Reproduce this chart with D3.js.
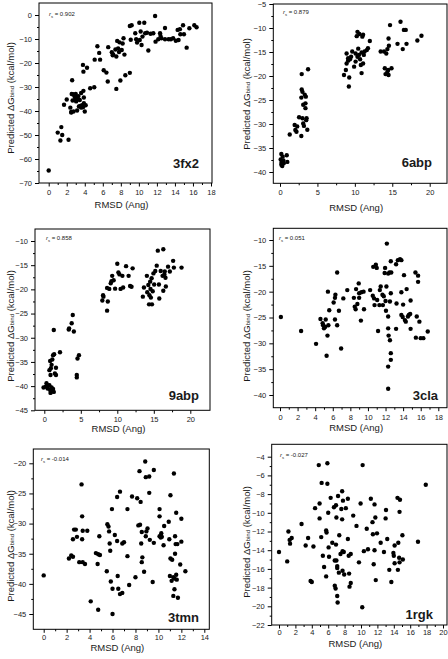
<!DOCTYPE html>
<html><head><meta charset="utf-8">
<script src="https://cdn.jsdelivr.net/npm/d3@7"></script>
<style>
html,body{margin:0;padding:0;background:#fff;}
svg{display:block;}
text{font-family:"Liberation Sans",Arial,sans-serif;fill:#1a1a1a;}
</style></head>
<body><svg id="c" width="448" height="659"></svg>
<script>
// ---------- DATA ----------
const panelNames = ["3fx2","6abp","9abp","3cla","3tmn","1rgk"];
const rsValues = ["0.902","0.879","0.858","0.051","-0.014","-0.027"];

const rmsd3fx2 = [0,1.0,1.3,1.4,1.5,2.2,1.7,2.0,2.4,2.5,2.6,2.55,2.7,2.5,2.75,2.65,2.9,2.95,3.0,3.05,3.2,3.3,3.35,3.45,3.5,3.15,2.85,3.6,3.7,3.8,3.9,3.6,4.1,3.8,3.85,4.25,3.85,3.9,4.0,4.6,5.05,5.1,5.4,5.6,5.7,6.1,6.4,6.55,6.6,7.0,7.1,7.15,7.4,7.5,7.5,7.6,7.7,7.8,7.85,7.95,8.1,8.2,8.3,8.4,8.5,9.0,9.0,9.2,9.1,9.6,9.7,9.8,10.05,10.1,10.2,10.3,10.4,10.6,10.7,10.9,11.05,11.3,11.6,11.8,11.85,12.15,12.35,12.4,12.5,12.9,12.9,13.3,13.55,13.8,14.1,14.3,14.4,14.55,14.6,14.9,15.0,15.3,15.6,16.15,16.4];
const dG3fx2 = [-64.8,-49,-52.3,-46.7,-50,-52,-37.4,-35.2,-38.6,-40.4,-27.2,-32.9,-33,-40.6,-40.2,-35.6,-35.4,-34.3,-32.9,-36,-35,-33.8,-38.1,-35.4,-37.9,-39.8,-33.8,-38.6,-37.6,-38.4,-36.8,-32.5,-37.6,-20.8,-23.6,-22,-31.6,-34.4,-40.2,-30.5,-30.1,-18.6,-13,-15.8,-18.6,-23,-24,-27.7,-13.4,-15.5,-16.8,-16.4,-14.4,-17.3,-30.8,-10.8,-13.9,-15.4,-11.4,-27.3,-14.6,-11.9,-9.7,-16.5,-25.1,-24.1,-4.6,-4.3,-10.3,-7.6,-10.1,-11.5,-3.2,-10.4,-6.9,-12.5,-9,-3.2,-7.6,-7.4,-14.8,-7.8,-7.6,-0.4,-11.1,-10.1,-7.6,-8.7,-9.7,-5.4,-10.1,-10.1,-10.1,-9.7,-10.7,-6.2,-10.4,-5.9,-8,-4.3,-8,-13.6,-5.5,-4.3,-5.1];

const rmsd6abp = [0.18,0.36,0.09,0.2,0.3,0.5,0.9,0.98,0.45,0.18,1.3,1.96,2.05,2.3,2.2,2.55,2.9,2.85,2.9,3.0,3.0,3.1,2.85,3.2,3.1,3.3,3.4,3.4,3.45,3.55,3.65,3.5,3.75,8.55,8.8,8.9,8.9,9.1,9.1,9.25,9.2,9.35,9.5,9.65,9.9,10.1,10.25,10.35,10.45,10.55,10.6,10.7,10.8,10.9,10.9,11.0,11.1,11.2,11.3,11.6,11.75,12.0,11.1,10.35,10.1,13.45,13.9,14.0,14.1,14.2,14.35,14.35,14.45,14.5,14.55,14.7,14.9,14.5,15.7,16.1,16.4,16.55,16.8,16.9,18.35,18.9];
const dG6abp = [-36.25,-36.8,-37.4,-38.05,-38.75,-38.2,-36.5,-37.9,-37.6,-38.5,-32.2,-30.2,-31.25,-30.5,-31.6,-28.6,-19.6,-24.5,-22.8,-23.3,-28.8,-29.9,-32.5,-30.4,-26,-23.9,-25.7,-26.7,-24.3,-28.8,-31.2,-29.2,-18.6,-19.8,-18.75,-15.3,-17.4,-16.8,-16.3,-20.3,-22.2,-16.5,-16,-14.9,-18.05,-15.3,-11.7,-10.8,-14.3,-15.6,-11.25,-16.5,-17.7,-15.1,-19.4,-11.8,-17.4,-15.6,-14.9,-14.6,-14.2,-12.7,-11.4,-16,-17,-14.9,-14.9,-18.4,-19.6,-15.3,-14.4,-19.1,-18.75,-12.2,-13.7,-9.4,-18.4,-19.8,-13.3,-8.7,-14.4,-10.4,-10.4,-13.3,-12.6,-11.6];

const rmsd9abp = [-0.1,0.2,0.3,0.45,0.7,0.8,0.85,1.0,1.2,1.3,0.55,1.1,0.7,0.8,0.85,1.0,0.9,1.1,1.2,1.35,1.3,1.45,1.6,1.6,2.15,3.35,3.4,3.75,3.9,4.05,4.45,4.45,4.55,4.75,7.95,8.05,8.1,8.6,8.6,8.7,8.9,9.1,9.2,9.3,9.5,9.7,10.0,10.15,10.3,10.45,10.7,10.8,11.2,11.55,11.75,11.95,12.1,13.5,13.65,14.05,14.1,14.25,14.35,14.4,14.5,14.55,14.6,14.7,14.75,14.85,14.95,15.05,15.2,15.4,15.55,15.7,15.75,15.95,16.3,16.2,16.3,16.45,16.5,16.6,16.65,16.95,17.2,17.65,17.75,18.8];
const dG9abp = [-40.3,-40.1,-39.4,-40.5,-39.8,-40.8,-41.4,-40.3,-40.6,-41.2,-39.9,-41,-36.7,-34.8,-37.7,-35.6,-36.3,-34.5,-33.6,-33.4,-28.4,-37.4,-36.2,-37.7,-33,-28.3,-28.1,-27,-25.3,-28.7,-38.2,-37.7,-34.3,-33.6,-22.3,-21.2,-21.5,-19.7,-24.4,-22.5,-19.9,-18.75,-18.3,-17.2,-18.1,-19.85,-14.7,-16.5,-16.9,-19.9,-17.2,-19.6,-15.2,-17.2,-19.3,-19.45,-15.65,-21.5,-19.6,-17.2,-20.6,-19.1,-23.1,-21.2,-18.4,-19.9,-21.7,-17.7,-23.1,-20.4,-16.7,-19,-16.2,-15.1,-12,-19,-21.9,-16.2,-11.7,-17.2,-20.3,-16.9,-16.3,-17.6,-19.4,-15.3,-16.3,-14.1,-15.5,-15.5];

const rmsd3cla = [0.1,2.4,4.1,4.6,4.85,4.9,5.0,5.15,5.2,5.3,5.4,5.45,5.5,5.6,6.1,6.25,6.3,6.25,6.5,6.5,6.7,6.95,7.2,7.65,8.4,8.5,8.6,8.65,8.8,8.95,9.0,9.0,9.2,9.25,9.5,9.55,10.25,10.55,10.6,10.7,10.75,10.9,11.0,11.05,11.15,11.3,11.35,11.45,11.65,11.7,11.8,11.9,11.95,12.0,12.05,12.1,12.15,12.3,12.3,12.3,12.35,12.3,12.3,12.45,12.5,12.5,12.6,12.6,12.6,12.6,12.65,13.2,13.25,13.2,13.4,13.65,13.8,13.8,13.8,13.95,14.0,14.1,14.2,14.3,14.4,14.55,14.65,14.8,14.85,14.85,15.4,15.45,15.55,15.7,15.7,15.85,16.0,16.3,16.8];
const dG3cla = [-24.9,-27.6,-30.1,-25.3,-26.1,-26.5,-27.1,-26.8,-25.4,-32.4,-28.5,-20,-26.5,-23.6,-22.1,-21.2,-20.6,-25.4,-26.5,-16.3,-23.7,-31,-21.3,-19.7,-21.2,-22.9,-23.4,-19.5,-22.4,-18.4,-21.2,-20.3,-25.6,-20.1,-20,-23.4,-19.7,-20.8,-15.2,-21.3,-22.6,-14.8,-15.4,-21.6,-27.6,-22.6,-19.7,-19,-20.6,-22.6,-20.9,-16.4,-15.4,-21.8,-23.7,-19,-10.7,-16.5,-24.8,-27.1,-28.5,-34.5,-38.8,-16.3,-21.9,-29.4,-20.3,-14.1,-31.9,-33.2,-16.3,-14.7,-22.3,-27.2,-13.9,-13.7,-13.9,-20.1,-24.5,-24.9,-22.5,-16.8,-25.5,-25.8,-19.5,-24.8,-24.5,-24.3,-21.7,-27.2,-16.3,-28.9,-24.8,-16.9,-18.1,-25.8,-29,-29,-27.7];

const rmsd3tmn = [0,2.2,2.4,2.55,2.55,2.65,2.8,2.9,3.1,3.3,3.35,3.4,3.35,3.4,3.6,3.8,4.1,4.55,4.75,4.7,4.75,4.85,4.9,5.55,5.65,5.5,5.7,5.75,5.8,5.85,5.95,6.0,6.0,6.2,6.4,6.45,6.5,6.4,6.65,6.65,6.85,6.85,7.0,7.3,7.3,7.45,7.7,8.0,8.15,8.25,8.35,8.4,8.45,8.5,8.55,8.6,8.55,8.75,8.85,8.9,8.9,8.95,9.05,9.2,9.2,9.25,9.6,9.5,9.6,10.1,10.1,10.1,10.2,10.25,10.3,10.45,10.5,10.9,10.95,11.05,11.0,11.05,11.15,11.2,11.3,11.35,11.3,11.4,11.4,11.45,11.45,11.5,11.55,11.55,11.6,11.65,11.7,11.9,12.0,12.0,12.35];
const dG3tmn = [-38.6,-35.8,-35.3,-35.5,-32.6,-31,-31,-32.2,-36.4,-23.5,-28.8,-31.2,-32.6,-36.4,-36.7,-31.2,-42.9,-34.9,-35.1,-36.7,-44.3,-32.1,-35.2,-30.1,-30.5,-37.9,-31.3,-33.3,-34.5,-39.6,-27.6,-40.8,-45,-31.9,-32.9,-38.7,-40.8,-25.6,-24.7,-41.7,-41.5,-33.3,-33.1,-27.6,-35.4,-40.2,-25.5,-38.9,-25.8,-30.3,-21.3,-30.2,-26.4,-33.3,-31.4,-35.6,-36.4,-38,-19.7,-22.3,-32.1,-31.3,-30.8,-22.2,-24.9,-32.7,-33.2,-39.7,-21.1,-28.8,-27.6,-32.1,-32.3,-31.6,-32.2,-33.6,-30.4,-29.7,-32.6,-25.3,-38.7,-35.8,-39.5,-36,-42,-21.7,-38.9,-39.1,-40.9,-32.1,-35,-33.4,-28.2,-38.5,-39.3,-33.4,-42.3,-36.8,-29.2,-33,-37.9];

const rmsd1rgk = [0,1.0,1.15,1.3,1.35,1.55,2.75,3.25,3.55,3.85,4.0,4.2,4.4,4.85,4.95,4.95,5.15,5.2,5.35,5.5,5.75,5.8,5.9,5.75,5.9,6.0,6.05,6.1,6.3,6.5,6.7,6.8,6.8,6.9,6.95,6.95,7.0,7.0,7.1,7.1,7.1,7.15,7.2,7.3,7.35,7.5,7.6,7.7,7.7,7.75,7.75,7.8,7.9,7.95,8.15,8.4,8.4,8.5,8.55,8.6,8.75,8.75,9.05,9.45,9.75,9.95,10.15,10.2,10.35,10.7,10.85,11.2,11.4,11.45,11.65,11.55,11.65,11.75,11.8,11.95,12.4,12.8,13.0,13.05,13.2,13.45,13.7,13.95,14.0,14.1,14.1,14.45,14.5,14.55,14.65,14.7,14.7,14.75,15.05,15.1,16.95,17.9];
const dG1rgk = [-14.2,-15.2,-12,-12.9,-13.3,-12.7,-11.2,-13.5,-12.7,-17.3,-17.4,-13.6,-9.5,-4.9,-9,-10.6,-12.6,-6.8,-14.6,-15.8,-11.9,-12.1,-4.7,-16.8,-6.9,-10,-13.7,-14.7,-8.4,-13.2,-9.4,-15.1,-17.8,-18.1,-9.2,-13.4,-10.5,-15.1,-15.7,-15.9,-18.9,-19.6,-8.2,-16.4,-12.4,-14.4,-9.6,-7.7,-10.7,-14.1,-16.2,-8.7,-14.2,-16.6,-9.5,-8.5,-12.8,-14.6,-16.5,-17.9,-17.5,-14.4,-10.3,-11.4,-15.3,-9,-20.1,-4.9,-14.1,-11.7,-13.9,-8.5,-11,-12.3,-14,-15.5,-9.1,-10.5,-17.2,-12.2,-13.2,-14.2,-10.6,-9.7,-12.8,-16.1,-17.4,-14.3,-14.6,-13.5,-15.4,-8.4,-16.1,-13.2,-14.8,-15.3,-9.9,-8.6,-12.4,-15,-13.1,-7];

const xTicks3fx2 = [0,2,4,6,8,10,12,14,16,18];
const yTicks3fx2 = [0,-10,-20,-30,-40,-50,-60,-70];
const xTicks6abp = [0,5,10,15,20];
const yTicks6abp = [-5,-10,-15,-20,-25,-30,-35,-40];
const xTicks9abp = [0,5,10,15,20];
const yTicks9abp = [-10,-15,-20,-25,-30,-35,-40,-45];
const xTicks3cla = [0,2,4,6,8,10,12,14,16,18];
const yTicks3cla = [-10,-15,-20,-25,-30,-35,-40];
const xTicks3tmn = [0,2,4,6,8,10,12,14];
const yTicks3tmn = [-20,-25,-30,-35,-40,-45];
const xTicks1rgk = [0,2,4,6,8,10,12,14,16,18,20];
const yTicks1rgk = [-4,-6,-8,-10,-12,-14,-16,-18,-20,-22];

// ---------- LAYOUT (pixel geometry) ----------
const layout = [
  {L:39,   R:212, T:3,     B:183,   x0:48.7, x1:211,   y0:15,    y1:183,   rsX:49,  rsY:16,  nX:199, nY:168, xtY:208, ytX:10,  ytY:98,  pad:3},
  {L:273.3,R:447, T:4,     B:183.3, x0:280,  x1:429.7, y0:4,     y1:172,   rsX:283, rsY:14,  nX:432, nY:167, xtY:211, ytX:245.5, ytY:94, pad:3},
  {L:35,   R:210, T:229,   B:410.3, x0:44.3, x1:190.3, y0:241,   y1:410.3, rsX:46,  rsY:240, nX:199, nY:400, xtY:432, ytX:9.5, ytY:326, pad:3},
  {L:273.3,R:447, T:228.3, B:407.7, x0:280,  x1:438.3, y0:240,   y1:395,   rsX:279, rsY:240, nX:438, nY:400, xtY:431, ytX:245.5, ytY:326, pad:3},
  {L:33.3, R:209.3,T:449,  B:629.3, x0:43.7, x1:204.3, y0:463.3, y1:614,   rsX:41,  rsY:461, nX:199, nY:622, xtY:651, ytX:10,  ytY:546, pad:2},
  {L:271.7,R:447, T:444.3, B:625,   x0:279,  x1:443,   y0:456.7, y1:625,   rsX:280, rsY:457, nX:433, nY:619, xtY:647, ytX:245.5, ytY:542, pad:1}
];

const xs = [rmsd3fx2, rmsd6abp, rmsd9abp, rmsd3cla, rmsd3tmn, rmsd1rgk];
const ys = [dG3fx2, dG6abp, dG9abp, dG3cla, dG3tmn, dG1rgk];
const xT = [xTicks3fx2, xTicks6abp, xTicks9abp, xTicks3cla, xTicks3tmn, xTicks1rgk];
const yT = [yTicks3fx2, yTicks6abp, yTicks9abp, yTicks3cla, yTicks3tmn, yTicks1rgk];

const svg = d3.select("#c");

function minors(t){
  const out=[];
  for(let i=0;i<t.length-1;i++) out.push((t[i]+t[i+1])/2);
  return out;
}

layout.forEach((p,i)=>{
  const xt=xT[i], yt=yT[i];
  const x = d3.scaleLinear().domain([xt[0], xt[xt.length-1]]).range([p.x0, p.x1]);
  const y = d3.scaleLinear().domain([yt[0], yt[yt.length-1]]).range([p.y0, p.y1]);
  const g = svg.append("g");

  // frame
  g.append("rect").attr("x",p.L).attr("y",p.T).attr("width",p.R-p.L).attr("height",p.B-p.T)
    .attr("fill","none").attr("stroke","#000").attr("stroke-width",1);

  // x axis
  const xAxis = d3.axisBottom(x).tickValues(xt).tickSize(3.5).tickPadding(p.pad).tickFormat(d3.format("d"));
  const xa = g.append("g").attr("transform",`translate(0,${p.B})`).call(xAxis);
  xa.select(".domain").remove();
  xa.selectAll("text").attr("font-size","7.5px").attr("font-family","Liberation Sans, Arial, sans-serif").attr("fill","#222");
  const xm = d3.axisBottom(x).tickValues(minors(xt)).tickSize(2).tickFormat("");
  const xma = g.append("g").attr("transform",`translate(0,${p.B})`).call(xm);
  xma.select(".domain").remove();

  // y axis
  const yAxis = d3.axisLeft(y).tickValues(yt).tickSize(4).tickPadding(3).tickFormat(d3.format("d"));
  const ya = g.append("g").attr("transform",`translate(${p.L},0)`).call(yAxis);
  ya.select(".domain").remove();
  ya.selectAll("text").attr("font-size","7.5px").attr("font-family","Liberation Sans, Arial, sans-serif").attr("fill","#222");
  const ym = d3.axisLeft(y).tickValues(minors(yt)).tickSize(2).tickFormat("");
  const yma = g.append("g").attr("transform",`translate(${p.L},0)`).call(ym);
  yma.select(".domain").remove();

  // points
  g.append("g").selectAll("circle").data(xs[i].map((v,k)=>[v,ys[i][k]])).join("circle")
    .attr("cx",d=>x(d[0])).attr("cy",d=>y(d[1])).attr("r",2.2).attr("fill","#000");

  // rs annotation
  const rs = g.append("text").attr("x",p.rsX).attr("y",p.rsY).attr("font-size","6px");
  rs.append("tspan").attr("font-style","italic").text("r");
  rs.append("tspan").attr("font-size","4px").attr("dy","1.5").text("s");
  rs.append("tspan").attr("dy","-1.5").text(" = " + rsValues[i]);

  // panel name
  g.append("text").attr("x",p.nX).attr("y",p.nY).attr("text-anchor","end")
    .attr("font-size","13px").attr("font-weight","bold").attr("fill","#000").text(panelNames[i]);

  // x title
  g.append("text").attr("x",(p.L+p.R)/2 - 4).attr("y",p.xtY).attr("text-anchor","middle")
    .attr("font-size","9.5px").attr("fill","#222").text("RMSD (Ang)");

  // y title
  const yl = g.append("text").attr("transform",`translate(${p.ytX},${p.ytY}) rotate(-90)`)
    .attr("text-anchor","middle").attr("dominant-baseline","central").attr("font-size","9.5px").attr("fill","#222");
  yl.append("tspan").text("Predicted \u0394G");
  yl.append("tspan").attr("font-size","6px").attr("dy","2").text("bind");
  yl.append("tspan").attr("dy","-2").text(" (kcal/mol)");
});
</script></body></html>
